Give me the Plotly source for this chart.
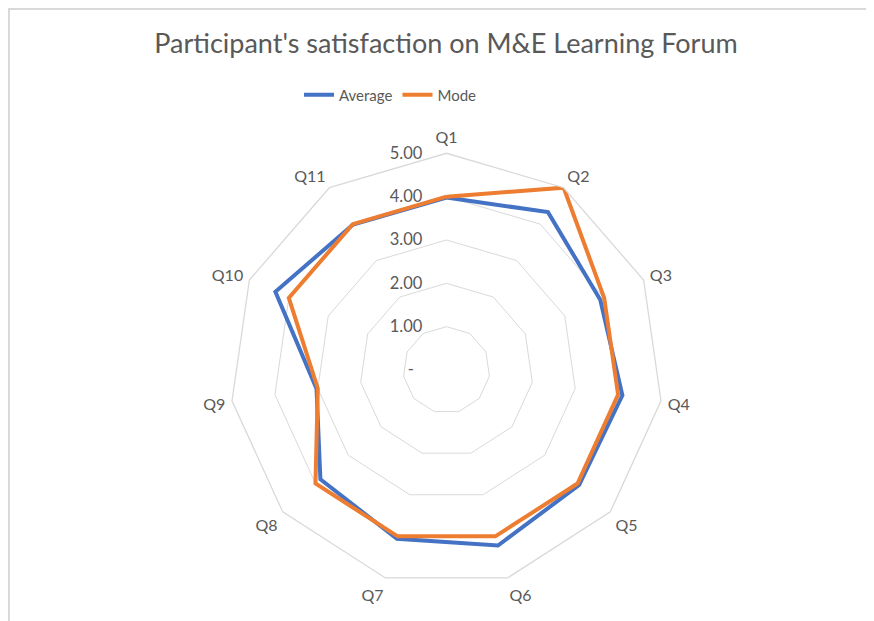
import plotly.graph_objects as go

categories = ["Q1", "Q2", "Q3", "Q4", "Q5", "Q6", "Q7", "Q8", "Q9", "Q10", "Q11"]
average = [3.98, 4.33, 3.90, 4.10, 4.05, 4.22, 4.06, 3.85, 3.03, 4.34, 3.99]
mode = [4, 5, 4, 4, 4, 4, 4, 4, 3, 4, 4]
tick_vals = [0, 1, 2, 3, 4, 5]
tick_text = ["-", "1.00", "2.00", "3.00", "4.00", "5.00"]

FONT = "Lato"
GREY = "#595959"
GRID = "#d9d9d9"

W, H = 874, 621
OFF = 8.0  # page body margin offset
cx, cy, R = 446.5 - OFF, 370.0 - OFF, 216.7

NB = "\u00a0"
tick_labels = [t + NB * (7 if t == "-" else 5) for t in tick_text]

fig = go.Figure()
fig.add_trace(go.Scatterpolar(
    r=average + average[:1], theta=categories + categories[:1],
    mode="lines", name="Average",
    line=dict(color="#4472C4", width=4),
))
fig.add_trace(go.Scatterpolar(
    r=mode + mode[:1], theta=categories + categories[:1],
    mode="lines", name="Mode",
    line=dict(color="#ED7D31", width=4),
))

fig.update_layout(
    width=W, height=H,
    margin=dict(l=0, r=0, t=0, b=0),
    paper_bgcolor="white",
    plot_bgcolor="white",
    font=dict(family=FONT, color=GREY, size=15),
    title=dict(text="Participant's satisfaction on M&E Learning Forum",
               x=(446 - OFF) / W, xanchor="center", y=1 - (44 - OFF) / H, yanchor="middle",
               font=dict(family=FONT, size=27, color=GREY)),
    legend=dict(orientation="h", x=(390.5 - OFF) / W, xanchor="center",
                y=1 - (95 - OFF) / H, yanchor="middle",
                font=dict(family=FONT, size=15, color=GREY)),
    showlegend=True,
    polar=dict(
        domain=dict(x=[(cx - R) / W, (cx + R) / W], y=[1 - (cy + R) / H, 1 - (cy - R) / H]),
        bgcolor="white",
        gridshape="linear",
        radialaxis=dict(
            range=[0, 5], tickvals=tick_vals, ticktext=tick_labels,
            angle=90, side="counterclockwise", tickangle=90,
            showline=False, ticks="", gridcolor=GRID, gridwidth=1.3,
            tickfont=dict(family=FONT, size=16.5, color=GREY),
        ),
        angularaxis=dict(
            rotation=90, direction="clockwise",
            showgrid=False, showline=True, linecolor=GRID, linewidth=1.3,
            ticks="outside", ticklen=3, tickcolor="rgba(0,0,0,0)",
            tickfont=dict(family=FONT, size=16, color=GREY),
        ),
    ),
    shapes=[dict(type="rect", xref="paper", yref="paper",
                 x0=1 / W, x1=1.05, y0=-0.05, y1=1 - 1 / H,
                 line=dict(color=GRID, width=2), fillcolor="rgba(0,0,0,0)", layer="below")],
)

fig.write_html("out.html")
